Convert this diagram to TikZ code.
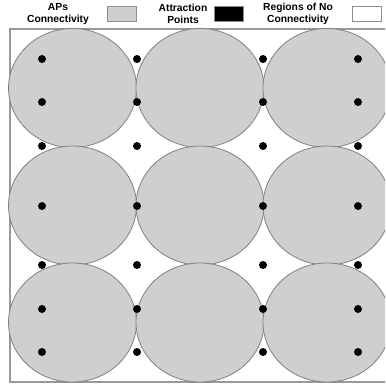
\documentclass[tikz,border=0pt]{standalone}
\usepackage{fontspec}
\setmainfont{Liberation Sans}
\tikzset{
  apfill/.style={draw=black!50, fill=black!19, line width=0.8pt},
  attdot/.style={circle, fill=black, inner sep=0pt, minimum size=8pt},
  frameline/.style={draw=black!40, line width=1.4pt},
  legtext/.style={align=center, font=\bfseries\fontsize{10.3}{12.5}\selectfont, inner sep=0pt},
  legbox/.style={draw=black!45, line width=0.8pt, minimum width=29pt, minimum height=15pt, inner sep=0pt}
}
\begin{document}
\begin{tikzpicture}[x=1pt,y=-1pt]
\useasboundingbox (0,0) rectangle (385,387);
\begin{scope}
\clip (0,0) rectangle (385,387);
% legend
\node[legtext] (t1) at (58,14) {APs\\Connectivity};
\node[legbox, fill=black!19] (b1) at (121.5,13.5) {};
\node[legtext] (t2) at (183,14) {Attraction\\Points};
\node[legbox, fill=black] (b2) at (228.5,13.5) {};
\node[legtext] (t3) at (298,14) {Regions of No\\Connectivity};
\node[legbox, fill=white] (b3) at (366.5,14) {};
% frame
\draw[frameline] (10,29) rectangle (400,382);
% circles
\foreach \cx in {72.5,200,327}
  \foreach \cy in {88,205.5,322.5}
    \draw[apfill] (\cx,\cy) ellipse [x radius=64pt, y radius=59.5pt];
% attraction points
\foreach \x [count=\i] in {42,137,263,358}
  \foreach \y [count=\j] in {59,102,146,206,265,309,352}
    \node[attdot] (d-\i-\j) at (\x,\y) {};
\end{scope}
\end{tikzpicture}
\end{document}
